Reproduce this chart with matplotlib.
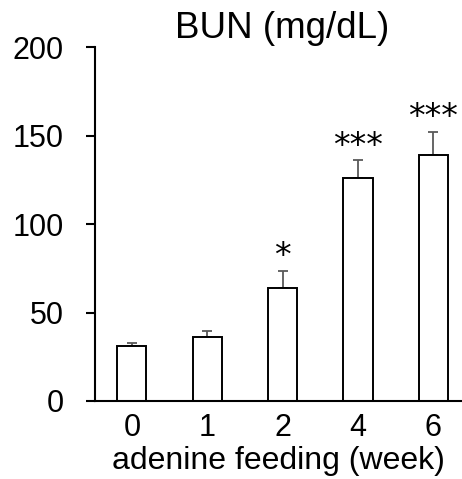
import numpy as np
import matplotlib
matplotlib.use("Agg")
import matplotlib.pyplot as plt

plt.rcParams['font.family'] = ['Liberation Sans', 'DejaVu Sans']

# data
weeks = ['0', '1', '2', '4', '6']
bun_mean = [31, 36, 64, 126, 139]
bun_sem = [1.8, 3.5, 9.7, 10, 13.3]
signif = ['', '', '*', '***', '***']

fig = plt.figure(figsize=(4.62, 4.79), dpi=100)
ax = fig.add_axes([95 / 462, 1 - 401 / 479, 1 - 95 / 462, (401 - 47.3) / 479])

x = np.arange(len(weeks))
ax.errorbar(x, bun_mean, yerr=[np.zeros(len(x)), bun_sem], fmt='none',
            ecolor='#595959', elinewidth=1.3, capsize=3.6, capthick=1.3, zorder=1)
ax.bar(x, bun_mean, width=0.385, color='white', edgecolor='black',
       linewidth=1.4, zorder=2)

# asterisks: six-armed, centred glyph
for xi, m, e, s in zip(x, bun_mean, bun_sem, signif):
    if s:
        ax.text(xi, m + e + 8, s, ha='center', va='center', fontsize=24,
                family='DejaVu Sans')

ax.set_xlim(-0.49, 4.38)
ax.set_ylim(0, 200)
ax.set_yticks([0, 50, 100, 150, 200])
ax.set_xticks(x)
ax.set_xticklabels(weeks)

for side in ['top', 'right']:
    ax.spines[side].set_visible(False)
for side in ['left', 'bottom']:
    ax.spines[side].set_linewidth(1.5)

ax.tick_params(axis='y', length=6.5, width=1.5, pad=16, labelsize=22)
ax.tick_params(axis='x', length=0, pad=9, labelsize=22)
ax.set_xlabel('adenine feeding (week)', fontsize=23, labelpad=2)

fig.text(282 / 462, 1 - 28 / 479, 'BUN (mg/dL)', ha='center', va='center', fontsize=26.5)

fig.savefig('out.png', dpi=100)
